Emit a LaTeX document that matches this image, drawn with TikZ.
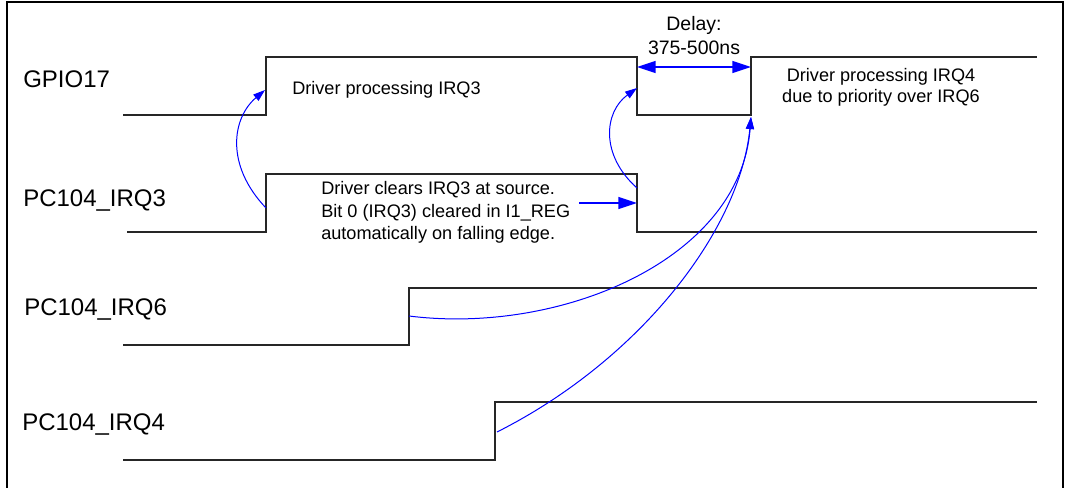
\documentclass[tikz,border=0pt]{standalone}
\usepackage{fontspec}
\setmainfont{Liberation Sans}
\usetikzlibrary{arrows.meta}

\begin{document}
\begin{tikzpicture}[
  x=0.75pt, y=-0.75pt,
  signame/.style={anchor=base west, inner sep=0pt, font=\fontsize{18}{22}\selectfont},
  note/.style={inner sep=0pt, font=\fontsize{13.6}{16.5}\selectfont},
  wave/.style={line width=1pt, draw=black!85},
  cause/.style={draw=blue, line width=0.75pt, -{Triangle[length=9pt,width=6pt]}},
  bar/.style={draw=blue, line width=1.1pt, >={Triangle[length=14pt,width=9pt]}}
]
\useasboundingbox (0,0) rectangle (1066,488);
\draw[line width=1.1pt] (7,2) rectangle (1063,495);

% signal names
\node[signame] (gpio) at (23,88) {GPIO17};
\node[signame] (irq3) at (23,207) {PC104\_IRQ3};
\node[signame] (irq6) at (24,315) {PC104\_IRQ6};
\node[signame] (irq4) at (22,430) {PC104\_IRQ4};

% waveforms
\draw[wave] (123,115) -- (266,115) -- (266,57) -- (637,57) -- (637,115) -- (751,115) -- (751,57) -- (1037,57);
\draw[wave] (127,232) -- (266,232) -- (266,174) -- (637,174) -- (637,232) -- (1037,232);
\draw[wave] (123,345) -- (409,345) -- (409,288) -- (1037,288);
\draw[wave] (123,460) -- (495,460) -- (495,402) -- (1037,402);

% notes (base = last line)
\node[note, anchor=base west] (drv3) at (292,95) {Driver processing IRQ3};
\node[note, anchor=base west, align=left] (clr3) at (321,239)
  {Driver clears IRQ3 at source.\\Bit 0 (IRQ3) cleared in I1\_REG\\automatically on falling edge.};
\node[note, anchor=base, align=center, font=\fontsize{14.6}{18}\selectfont] (delay) at (694,55) {Delay:\\375-500ns};
\node[note, anchor=base, align=center, font=\fontsize{13.6}{15.75}\selectfont] (drv4) at (881,103)
  {Driver processing IRQ4\\due to priority over IRQ6};

% arrow ends on the edges
\coordinate (irq3rise) at (266,208);
\coordinate (gpiorise) at (265,90);
\coordinate (irq3fall) at (637,188);
\coordinate (gpiofall) at (637,88);
\coordinate (gpiorise2) at (751,117);
\coordinate (irq6rise) at (409,316);
\coordinate (irq4rise) at (497,432);
\coordinate (dlyleft) at (637,67);
\coordinate (dlyright) at (751,67);
\coordinate (clrtail) at (579,203);
\coordinate (clrhead) at (637,203);

\draw[cause] (irq3rise) .. controls (225,165) and (232,118) .. (gpiorise);
\draw[cause] (irq3fall) .. controls (600,155) and (604,112) .. (gpiofall);
\draw[cause] (irq6rise) .. controls (560,335) and (740,260) .. (gpiorise2);
\draw[cause] (irq4rise) .. controls (640,360) and (740,230) .. (gpiorise2);
\draw[bar, <->] (dlyleft) -- (dlyright);
\draw[bar, ->] (clrtail) -- (clrhead);
\end{tikzpicture}
\end{document}
